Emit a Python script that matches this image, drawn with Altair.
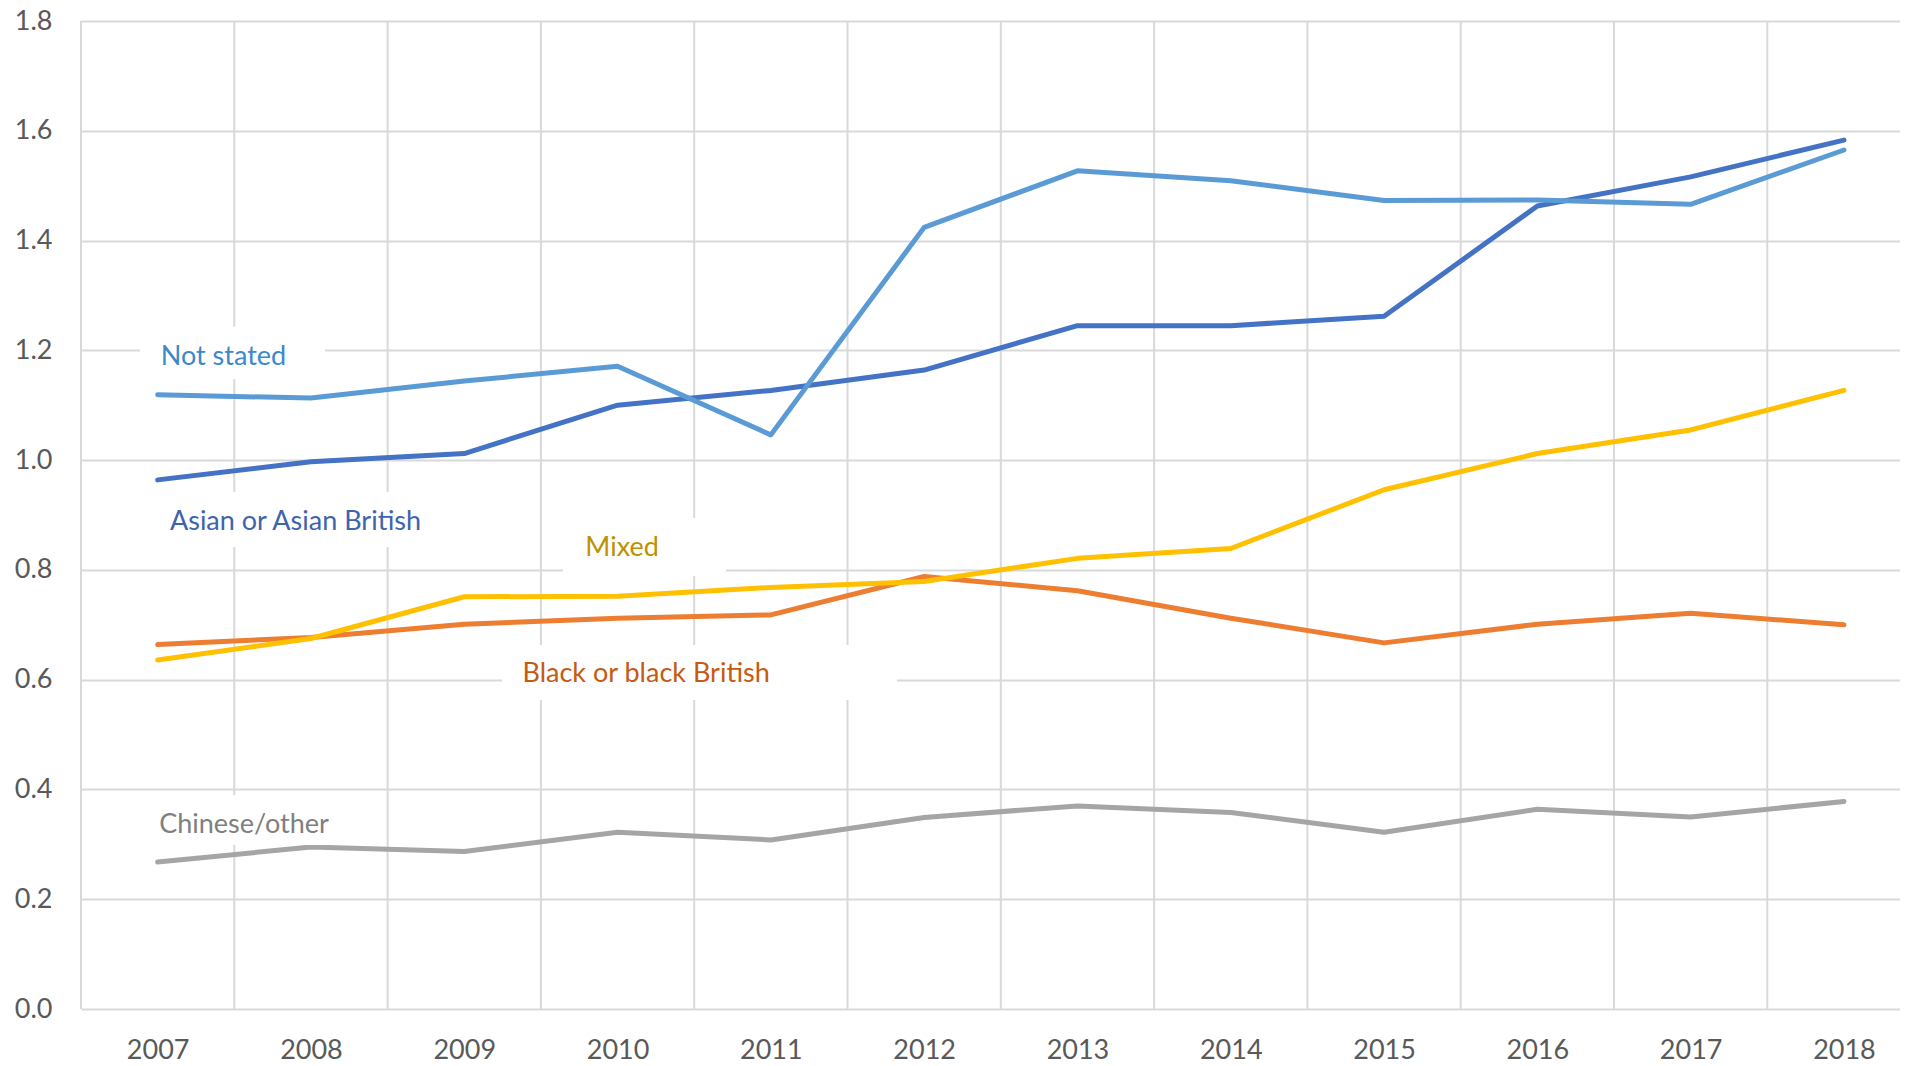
import altair as alt
import pandas as pd

# ---------------- data ----------------
years = list(range(2007, 2019))
series = ["Asian or Asian British", "Black or black British", "Chinese/other", "Mixed", "Not stated"]
asian = [0.964, 0.997, 1.012, 1.100, 1.127, 1.164, 1.245, 1.245, 1.262, 1.463, 1.516, 1.583]
black = [0.664, 0.677, 0.701, 0.712, 0.718, 0.788, 0.762, 0.712, 0.667, 0.701, 0.721, 0.700]
chinese = [0.268, 0.295, 0.287, 0.322, 0.308, 0.349, 0.370, 0.358, 0.322, 0.364, 0.350, 0.378]
mixed = [0.636, 0.675, 0.751, 0.752, 0.768, 0.779, 0.821, 0.839, 0.946, 1.012, 1.055, 1.127]
not_stated = [1.119, 1.113, 1.144, 1.171, 1.046, 1.424, 1.527, 1.509, 1.473, 1.474, 1.466, 1.565]
y_ticks = [0.0, 0.2, 0.4, 0.6, 0.8, 1.0, 1.2, 1.4, 1.6, 1.8]

# ---------------- styles ----------------
line_colors = ["#4472C4", "#ED7D31", "#A5A5A5", "#FFC000", "#5B9BD5"]
label_colors = ["#3E63AF", "#C55A11", "#7F7F7F", "#BF9000", "#3C88CA"]
FONT = "Lato"
GRID = "#D9D9D9"
AXIS_TXT = "#595959"

# annotation anchors (data units)
label_x = [2007.08, 2009.38, 2007.01, 2009.79, 2007.02]
label_y = [0.873, 0.596, 0.321, 0.825, 1.173]
box_x1 = [2006.95, 2009.246, 2006.885, 2009.644, 2006.885]
box_x2 = [2008.842, 2011.823, 2008.222, 2010.707, 2008.092]
box_y1 = [0.8417, 0.5630, 0.2988, 0.7889, 1.1472]
box_y2 = [0.9419, 0.6631, 0.3899, 0.8945, 1.2430]

values = [asian, black, chinese, mixed, not_stated]
rows = []
for s, vals in zip(series, values):
    for yr, v in zip(years, vals):
        rows.append({"series": s, "year": yr, "value": v})
df = pd.DataFrame(rows)

bounds = pd.DataFrame({"b": [y - 0.5 for y in years]})
ann = pd.DataFrame({
    "series": series, "lx": label_x, "ly": label_y, "tcolor": label_colors,
    "x1": box_x1, "x2": box_x2, "y1": box_y1, "y2": box_y2,
})

PLOT_W = 1819
PLOT_H = 988
BAND = 153.3
xscale = alt.Scale(domain=[years[0] - 0.5, years[0] - 0.5 + PLOT_W / BAND], nice=False, zero=False)
yscale = alt.Scale(domain=[0, 1.8], nice=False, zero=False)

xaxis = alt.Axis(values=years, format="d", grid=False, ticks=False, tickSize=0, domain=False,
                 labelFont=FONT, labelFontSize=27, labelColor=AXIS_TXT, labelPadding=28,
                 labelFlush=False, labelOverlap=False, title=None)
yaxis = alt.Axis(values=y_ticks, format=".1f", grid=True, gridColor=GRID, gridWidth=2,
                 ticks=False, tickSize=0, domain=False,
                 labelFont=FONT, labelFontSize=27, labelColor=AXIS_TXT, labelPadding=29,
                 labelFlush=False, labelOverlap=False, title=None)


def X(field):
    return alt.X(field, type="quantitative", scale=xscale, axis=xaxis)


def Y(field):
    return alt.Y(field, type="quantitative", scale=yscale, axis=yaxis)


vrules = alt.Chart(bounds).mark_rule(color=GRID, strokeWidth=2).encode(x=X("b"))

lines = alt.Chart(df).mark_line(strokeWidth=5, strokeCap="round", strokeJoin="round").encode(
    x=X("year"),
    y=Y("value"),
    color=alt.Color("series:N", scale=alt.Scale(domain=series, range=line_colors), legend=None),
    order=alt.Order("year:Q"),
)

boxes = alt.Chart(ann).mark_rect(color="white").encode(
    x=X("x1"), x2="x2", y=Y("y1"), y2="y2"
)

texts = alt.Chart(ann).mark_text(align="left", baseline="alphabetic", font=FONT, fontSize=27).encode(
    x=X("lx"), y=Y("ly"), text="series:N", color=alt.Color("tcolor:N", scale=None)
)

chart = alt.layer(vrules, lines, boxes, texts).properties(
    width=PLOT_W,
    height=PLOT_H,
    autosize=alt.AutoSizeParams(type="none"),
    padding={"left": 73, "top": 13, "right": 0, "bottom": 60},
    background="white",
).configure_view(stroke=None)

chart.save("out.html", embed_options={"renderer": "svg", "actions": False})
